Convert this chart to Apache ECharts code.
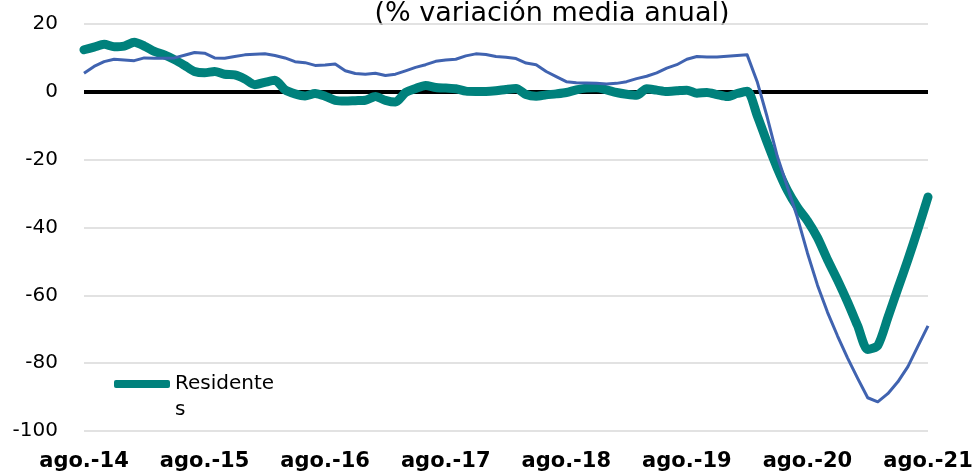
<!DOCTYPE html>
<html>
<head>
<meta charset="utf-8">
<script src="https://cdn.jsdelivr.net/npm/echarts@6/dist/echarts.min.js"></script>
<style>
html,body{margin:0;padding:0;background:#fff;}
#c{width:974px;height:471px;}
</style>
</head>
<body>
<div id="c"></div>
<script>
var titleText = '(% variación media anual)';
var categories = [
 'ago.-14','sep.-14','oct.-14','nov.-14','dic.-14',
 'ene.-15','feb.-15','mar.-15','abr.-15','may.-15','jun.-15','jul.-15','ago.-15','sep.-15','oct.-15','nov.-15','dic.-15',
 'ene.-16','feb.-16','mar.-16','abr.-16','may.-16','jun.-16','jul.-16','ago.-16','sep.-16','oct.-16','nov.-16','dic.-16',
 'ene.-17','feb.-17','mar.-17','abr.-17','may.-17','jun.-17','jul.-17','ago.-17','sep.-17','oct.-17','nov.-17','dic.-17',
 'ene.-18','feb.-18','mar.-18','abr.-18','may.-18','jun.-18','jul.-18','ago.-18','sep.-18','oct.-18','nov.-18','dic.-18',
 'ene.-19','feb.-19','mar.-19','abr.-19','may.-19','jun.-19','jul.-19','ago.-19','sep.-19','oct.-19','nov.-19','dic.-19',
 'ene.-20','feb.-20','mar.-20','abr.-20','may.-20','jun.-20','jul.-20','ago.-20','sep.-20','oct.-20','nov.-20','dic.-20',
 'ene.-21','feb.-21','mar.-21','abr.-21','may.-21','jun.-21','jul.-21','ago.-21'
];
var tickLabels = ['ago.-14','ago.-15','ago.-16','ago.-17','ago.-18','ago.-19','ago.-20','ago.-21'];
var residentes = [
 12.4, 13.2, 14.0, 13.3, 13.5, 14.6, 13.5, 11.9, 10.9, 9.5,
 7.8, 6.0, 5.6, 6.0, 5.2, 5.0, 3.8, 2.1, 2.8, 3.4,
 0.6, -0.6, -1.2, -0.5, -1.3, -2.5, -2.7, -2.6, -2.5, -1.4,
 -2.5, -3.0, -0.2, 1.0, 1.9, 1.3, 1.1, 0.9, 0.2, 0.1,
 0.1, 0.3, 0.7, 1.0, -0.8, -1.3, -0.9, -0.6, -0.2, 0.6,
 1.1, 1.2, 0.6, -0.2, -0.7, -1.0, 0.9, 0.5, 0.1, 0.3,
 0.5, -0.4, -0.2, -0.8, -1.4, -0.5, 0.2, -7.0, -15.0, -22.5,
 -29.0, -34.0, -38.0, -43.0, -49.5, -55.5, -62.0, -69.0, -76.0, -74.8,
 -66.6, -58.0, -49.5, -40.5, -31.0
];
var otros = [
 5.5, 7.5, 8.9, 9.6, 9.4, 9.2, 10.0, 9.9, 9.9, 10.0,
 10.8, 11.6, 11.4, 10.0, 9.9, 10.4, 10.9, 11.1, 11.2, 10.7,
 10.0, 8.9, 8.6, 7.8, 7.9, 8.2, 6.2, 5.4, 5.2, 5.5,
 4.8, 5.2, 6.2, 7.2, 8.0, 9.0, 9.4, 9.6, 10.6, 11.2,
 11.0, 10.4, 10.2, 9.8, 8.5, 8.0, 6.0, 4.5, 3.0, 2.7,
 2.6, 2.5, 2.3, 2.5, 3.0, 3.9, 4.6, 5.6, 7.0, 8.0,
 9.6, 10.4, 10.3, 10.3, 10.5, 10.7, 10.9, 3.0, -7.5, -19.0,
 -28.0, -37.0, -47.5, -57.0, -65.0, -72.0, -78.5, -84.5, -90.2, -91.4,
 -89.0, -85.5, -81.0, -75.0, -69.0
];

var chart = echarts.init(document.getElementById('c'), null, {renderer: 'canvas'});
var font = '"DejaVu Sans", Verdana, sans-serif';
chart.setOption({
  animation: false,
  backgroundColor: '#ffffff',
  textStyle: {fontFamily: font},
  graphic: [{
    type: 'text',
    style: {x: 552, y: 14, text: titleText, font: '27px ' + font, fill: '#000',
            textAlign: 'center', textVerticalAlign: 'middle'}
  }],
  legend: {
    data: ['Residentes'],
    left: 114, top: 345, padding: 0,
    itemWidth: 56, itemHeight: 8, itemGap: 5,
    icon: 'roundRect',
    formatter: function () { return '\nResidente\ns'; },
    textStyle: {fontSize: 20, color: '#000', fontFamily: font, lineHeight: 26}
  },
  grid: {left: 84, right: 46, top: 24, bottom: 40, containLabel: false, outerBoundsMode: 'none'},
  xAxis: {
    type: 'category',
    data: categories,
    boundaryGap: false,
    axisLine: {show: false},
    axisTick: {show: false},
    splitLine: {show: false},
    axisLabel: {
      interval: function (i, v) { return tickLabels.indexOf(v) >= 0; },
      fontSize: 21, fontWeight: 'bold', color: '#000', margin: 20, fontFamily: font
    }
  },
  yAxis: {
    type: 'value',
    min: -100, max: 20, interval: 20,
    axisLine: {show: false},
    axisTick: {show: false},
    splitLine: {lineStyle: {color: '#d9d9d9', width: 1.5}},
    axisLabel: {fontSize: 20, color: '#000', margin: 26, fontFamily: font}
  },
  series: [
    {
      name: 'Residentes', type: 'line', data: residentes,
      symbol: 'none', z: 3, smooth: 0.25,
      lineStyle: {color: '#00817c', width: 9, cap: 'round', join: 'round'},
      itemStyle: {color: '#00817c'},
      markLine: {
        z: 1, silent: true, symbol: 'none', label: {show: false},
        lineStyle: {color: '#000', width: 4, type: 'solid'},
        data: [{yAxis: 0}]
      }
    },
    {
      name: 'No residentes', type: 'line', data: otros,
      symbol: 'none', z: 4,
      lineStyle: {color: '#4063b0', width: 3, join: 'round'},
      itemStyle: {color: '#4063b0'}
    }
  ]
});
</script>
</body>
</html>
